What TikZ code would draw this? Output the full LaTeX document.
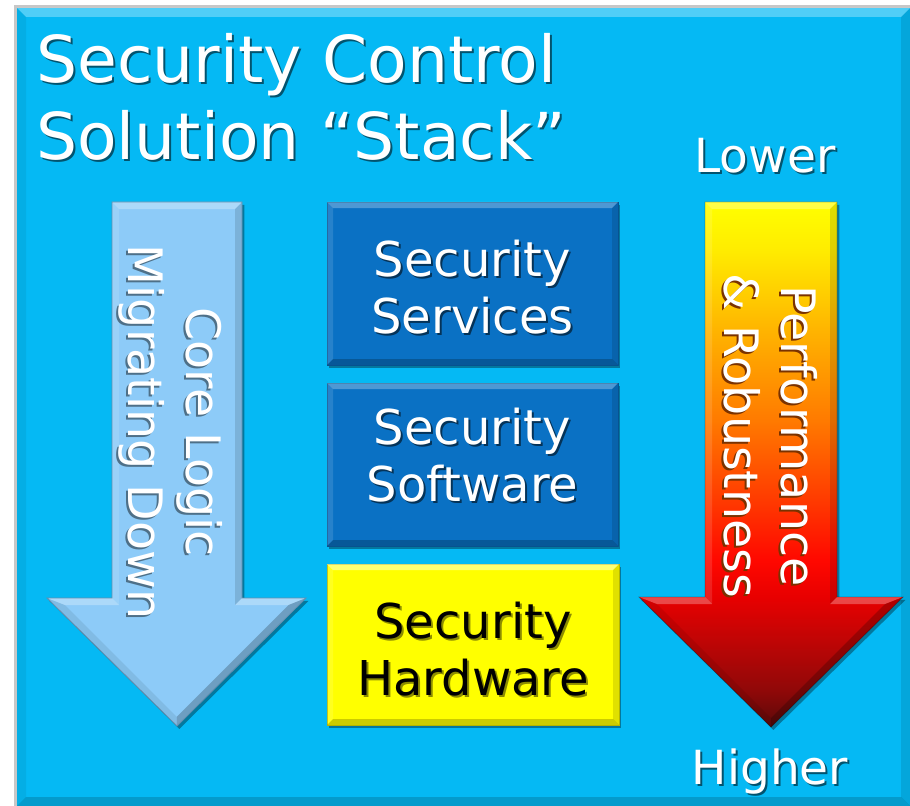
\documentclass[tikz,border=0pt]{standalone}
\usepackage{fontspec}
\setmainfont{DejaVu Sans}
\usetikzlibrary{shadows}

% palette
\definecolor{framebg}{HTML}{05B9F4}
\definecolor{boxblue}{HTML}{0A71C4}
\definecolor{skyarrow}{HTML}{8DCBF8}
\definecolor{hwyellow}{HTML}{FFFF00}
\definecolor{pA}{HTML}{5A0A0A}
\definecolor{pB}{HTML}{900808}
\definecolor{pC}{HTML}{C00505}
\definecolor{pD}{HTML}{E80000}
\definecolor{pE}{HTML}{FF0800}
\definecolor{pF}{HTML}{FF3A00}
\definecolor{pG}{HTML}{FF7A00}
\definecolor{pH}{HTML}{FFB400}
\definecolor{pI}{HTML}{FFEC00}
\definecolor{pJ}{HTML}{FFFF00}
\colorlet{shdframe}{framebg!45!black}
\colorlet{shdblue}{boxblue!45!black}
\colorlet{shdsky}{skyarrow!55!black}
\colorlet{shdyellow}{hwyellow!55!black}
\definecolor{shdperf}{HTML}{7A3200}

% yellow-to-dark-red fill of the performance arrow (top = yellow)
\pgfdeclareverticalshading{perfshade}{100bp}{%
  color(0bp)=(pA); color(25bp)=(pA); color(28.5bp)=(pB); color(33.3bp)=(pC);
  color(37.4bp)=(pD); color(40.9bp)=(pE); color(46.6bp)=(pF); color(54.2bp)=(pG);
  color(62.8bp)=(pH); color(70.4bp)=(pI); color(75bp)=(pJ); color(100bp)=(pJ)}

% text with a small offset shadow behind it
\newcommand\shd[2]{\leavevmode\rlap{\kern1.5pt\raisebox{-1.5pt}[0pt][0pt]{\textcolor{#1}{#2}}}#2}

% bevelled edges of a rectangular node
\newcommand\bevelbox[2]{%
  \fill[bev top] (#1.north west) -- (#1.north east) -- ([shift={(-#2,#2)}]#1.north east) -- ([shift={(#2,#2)}]#1.north west) -- cycle;
  \fill[bev left] (#1.north west) -- ([shift={(#2,#2)}]#1.north west) -- ([shift={(#2,-#2)}]#1.south west) -- (#1.south west) -- cycle;
  \fill[bev right] (#1.north east) -- (#1.south east) -- ([shift={(-#2,-#2)}]#1.south east) -- ([shift={(-#2,#2)}]#1.north east) -- cycle;
  \fill[bev bottom] (#1.south west) -- ([shift={(#2,-#2)}]#1.south west) -- ([shift={(-#2,-#2)}]#1.south east) -- (#1.south east) -- cycle;
}
% one bevel facet between an outer edge and its inner offset
\newcommand\facet[5]{\fill[#5] (#1) -- (#2) -- (#3) -- (#4) -- cycle;}

\tikzset{
  bev top/.style={white, fill opacity=0.28},
  bev left/.style={white, fill opacity=0.12},
  bev right/.style={black, fill opacity=0.12},
  bev bottom/.style={black, fill opacity=0.22},
  bev diag/.style={black, fill opacity=0.08},
  soft shadow/.style={drop shadow={shadow xshift=1.8pt, shadow yshift=-2.2pt, opacity=0.35, fill=black}},
  stackbox/.style={rectangle, inner sep=0pt, outer sep=0pt, minimum width=218.25pt, soft shadow},
  bluebox/.style={stackbox, fill=boxblue, draw=boxblue!75!black, line width=0.6pt},
  yellowbox/.style={stackbox, fill=hwyellow, draw=hwyellow!72!black, line width=0.6pt},
  titletext/.style={inner sep=0pt, text=white, font=\fontsize{48.5pt}{58.5pt}\selectfont},
  sidetext/.style={inner sep=0pt, text=white, font=\fontsize{35.25pt}{42pt}\selectfont},
  boxtext/.style={inner sep=0pt, align=center, font=\fontsize{36pt}{42.75pt}\selectfont},
  arrowtext/.style={inner sep=0pt, align=center, rotate=-90, text=white, font=\fontsize{35.6pt}{43.1pt}\selectfont},
}

\begin{document}
\begin{tikzpicture}[x=0.75pt, y=-0.75pt]
\useasboundingbox (0,0) rectangle (910,806);
\fill[white] (0,0) rectangle (910,806);

% slide panel with a faint outline and bevel
\fill[black!22] (14,5) rectangle (910,806);
\node[rectangle, inner sep=0pt, outer sep=0pt, fill=framebg,
      minimum width=669.75pt, minimum height=598.5pt] (frame) at (463.5,407) {};
\begin{scope}[bev top/.style={white, fill opacity=0.3}, bev left/.style={black, fill opacity=0.06},
              bev right/.style={black, fill opacity=0.1}, bev bottom/.style={black, fill opacity=0.16}]
  \bevelbox{frame}{9}
\end{scope}

% heading
\node[titletext, anchor=base west] (title1) at (36,83) {\shd{shdframe}{Security Control}};
\node[titletext, anchor=base west] (title2) at (36,160) {\shd{shdframe}{Solution “Stack”}};

% ---------- left arrow: core logic migrating down ----------
\coordinate (la1) at (112,202);  \coordinate (li1) at (119,209);
\coordinate (la2) at (242,202);  \coordinate (li2) at (235,209);
\coordinate (la3) at (242,598);  \coordinate (li3) at (235,605);
\coordinate (la4) at (306,598);  \coordinate (li4) at (288.6,605);
\coordinate (la5) at (177,726);  \coordinate (li5) at (176.8,716.9);
\coordinate (la6) at (47,598);   \coordinate (li6) at (64.9,605);
\coordinate (la7) at (112,598);  \coordinate (li7) at (119,605);
\fill[skyarrow, soft shadow] (la1) -- (la2) -- (la3) -- (la4) -- (la5) -- (la6) -- (la7) -- cycle;
\facet{la1}{la2}{li2}{li1}{bev top}
\facet{la2}{la3}{li3}{li2}{bev right}
\facet{la3}{la4}{li4}{li3}{bev top}
\facet{la4}{la5}{li5}{li4}{bev bottom}
\facet{la5}{la6}{li6}{li5}{bev diag}
\facet{la6}{la7}{li7}{li6}{bev top}
\facet{la7}{la1}{li1}{li7}{bev left}
\draw[skyarrow!70!black, line width=0.6pt] (la1) -- (la2) -- (la3) -- (la4) -- (la5) -- (la6) -- (la7) -- cycle;
\node[arrowtext] (corelogic) at (170.7,432)
  {\shd{shdsky}{Core Logic}\\\shd{shdsky}{Migrating Down}};

% ---------- centre stack ----------
\node[bluebox, minimum height=122.25pt] (services) at (472.5,283.5) {};
\bevelbox{services}{6}
\node[boxtext, text=white] (servicestext) at (472.5,287.5)
  {\shd{shdblue}{Security}\\\shd{shdblue}{Services}};

\node[bluebox, minimum height=122.25pt] (software) at (472.5,464.5) {};
\bevelbox{software}{6}
\node[boxtext, text=white] (softwaretext) at (472.5,455)
  {\shd{shdblue}{Security}\\\shd{shdblue}{Software}};

\node[yellowbox, minimum height=120.75pt, minimum width=219pt] (hardware) at (473,644.5) {};
\begin{scope}[bev top/.style={white, fill opacity=0.45}, bev bottom/.style={black, fill opacity=0.2}]
  \bevelbox{hardware}{6}
\end{scope}
\node[boxtext, text=black] (hardwaretext) at (473,649.3)
  {\shd{shdyellow}{Security}\\\shd{shdyellow}{Hardware}};

% ---------- right arrow: performance & robustness ----------
\node[sidetext, anchor=base] (lower) at (765,173) {\shd{shdframe}{Lower}};
\node[sidetext, anchor=base] (higher) at (770,784) {\shd{shdframe}{Higher}};

\coordinate (ra1) at (705,202);  \coordinate (ri1) at (712,209);
\coordinate (ra2) at (837,202);  \coordinate (ri2) at (830,209);
\coordinate (ra3) at (837,597);  \coordinate (ri3) at (830,604);
\coordinate (ra4) at (903,597);  \coordinate (ri4) at (885.1,604);
\coordinate (ra5) at (771,727);  \coordinate (ri5) at (771,718.1);
\coordinate (ra6) at (639,597);  \coordinate (ri6) at (656.9,604);
\coordinate (ra7) at (705,597);  \coordinate (ri7) at (712,604);
\shade[shading=perfshade, soft shadow] (ra1) -- (ra2) -- (ra3) -- (ra4) -- (ra5) -- (ra6) -- (ra7) -- cycle;
\facet{ra1}{ra2}{ri2}{ri1}{bev top}
\facet{ra2}{ra3}{ri3}{ri2}{bev right}
\facet{ra3}{ra4}{ri4}{ri3}{bev top}
\facet{ra4}{ra5}{ri5}{ri4}{bev bottom}
\facet{ra5}{ra6}{ri6}{ri5}{bev diag}
\facet{ra6}{ra7}{ri7}{ri6}{bev top}
\facet{ra7}{ra1}{ri1}{ri7}{bev left}
\draw[black, draw opacity=0.25, line width=0.6pt] (ra1) -- (ra2) -- (ra3) -- (ra4) -- (ra5) -- (ra6) -- (ra7) -- cycle;
\node[arrowtext] (performance) at (770.9,436)
  {\shd{shdperf}{Performance}\\\shd{shdperf}{\& Robustness}};
\end{tikzpicture}
\end{document}
